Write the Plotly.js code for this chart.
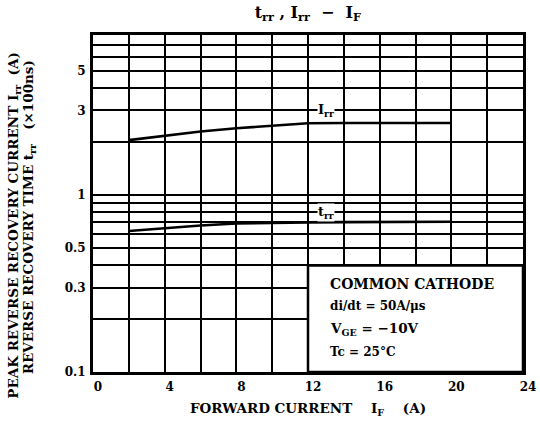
<!DOCTYPE html>
<html>
<head>
<meta charset="utf-8">
<script src="https://cdn.plot.ly/plotly-3.0.1.min.js"></script>
<style>html,body{margin:0;padding:0;background:#fff;}#chart{width:540px;height:429px;}</style>
</head>
<body>
<div id="chart"></div>
<script>
// Data
const forwardCurrent = [2, 4, 6, 8, 10, 12, 14, 16, 18, 20];
const irrValues = [2.04, 2.16, 2.28, 2.38, 2.47, 2.54, 2.55, 2.55, 2.55, 2.55];
const trrValues = [0.625, 0.65, 0.672, 0.69, 0.698, 0.70, 0.702, 0.703, 0.704, 0.705];
const xGrid = [0, 2, 4, 6, 8, 10, 12, 14, 16, 18, 20, 22, 24];
const xLabels = ["0", "", "4", "", "8", "", "12", "", "16", "", "20", "", "24"];
const yGrid = [0.1, 0.2, 0.3, 0.4, 0.5, 0.6, 0.7, 0.8, 0.9, 1, 2, 3, 4, 5, 6, 7, 8];
const yLabels = ["0.1", "", "0.3", "", "0.5", "", "", "", "", "1", "", "3", "", "5", "", "", ""];
const conditionLines = ["COMMON CATHODE", "di/dt = 50A/μs", "V<sub>GE</sub> = −10V", "Tc = 25°C"];

const F = "DejaVu Serif, Liberation Serif, serif";
const yMin = -1, yMax = Math.log10(8);
const toPaperY = v => (Math.log10(v) - yMin) / (yMax - yMin);

const traces = [
  {x: forwardCurrent, y: irrValues, mode: "lines", line: {color: "#000", width: 2.6}, hoverinfo: "skip"},
  {x: forwardCurrent, y: trrValues, mode: "lines", line: {color: "#000", width: 2.6}, hoverinfo: "skip"}
];

const condY = [0.314, 0.235, 0.174, 0.13];
const condSize = [14, 12, 13.5, 12];
const annotations = conditionLines.map((t, i) => ({
  x: 13.1, y: toPaperY(condY[i]), xref: "x", yref: "paper", text: "<b>" + t + "</b>",
  showarrow: false, xanchor: "left", yanchor: "middle",
  font: {family: F, size: condSize[i], color: "#000"}
}));
annotations.push(
  {x: 13.0, y: toPaperY(3), xref: "x", yref: "paper", text: "<b>I<sub>rr</sub></b>", showarrow: false, bgcolor: "#fff",
   xanchor: "center", yanchor: "middle", font: {family: F, size: 13, color: "#000"}, borderpad: 0},
  {x: 13.0, y: toPaperY(0.8), xref: "x", yref: "paper", text: "<b>t<sub>rr</sub></b>", showarrow: false, bgcolor: "#fff",
   xanchor: "center", yanchor: "middle", font: {family: F, size: 13, color: "#000"}, borderpad: 0},
  {x: -0.183, y: 0.435, xref: "paper", yref: "paper", textangle: -90, showarrow: false,
   text: "<b>PEAK REVERSE RECOVERY CURRENT I<sub>rr</sub>  (A)</b>", xanchor: "center", yanchor: "middle",
   font: {family: F, size: 13.5, color: "#000"}},
  {x: -0.148, y: 0.46, xref: "paper", yref: "paper", textangle: -90, showarrow: false,
   text: "<b>REVERSE RECOVERY TIME t<sub>rr</sub>   (×100ns)</b>", xanchor: "center", yanchor: "middle",
   font: {family: F, size: 13.5, color: "#000"}}
);

const layout = {
  width: 540, height: 429,
  margin: {l: 93, r: 17, t: 35, b: 57},
  paper_bgcolor: "#fff", plot_bgcolor: "#fff",
  showlegend: false,
  title: {text: "<b>t<sub>rr</sub> , I<sub>rr</sub>  −  I<sub>F</sub></b>", x: 0.57, xanchor: "center", y: 0.985, yanchor: "top",
          font: {family: F, size: 16, color: "#000"}},
  xaxis: {
    range: [0, 24], tickmode: "array", tickvals: xGrid, ticktext: xLabels,
    showgrid: true, gridcolor: "#000", gridwidth: 2, zeroline: false,
    showline: true, linecolor: "#000", linewidth: 3, mirror: true, ticks: "",
    ticklabelshift: 5, ticklabelstandoff: 2,
    tickfont: {family: F, size: 12, color: "#000", weight: "bold"},
    title: {text: "<b>FORWARD CURRENT    I<sub>F</sub>    (A)</b>", standoff: 11, font: {family: F, size: 13.5, color: "#000"}}
  },
  yaxis: {
    type: "log", range: [yMin, yMax], tickmode: "array", tickvals: yGrid, ticktext: yLabels,
    showgrid: true, gridcolor: "#000", gridwidth: 2, zeroline: false,
    showline: true, linecolor: "#000", linewidth: 3, mirror: true, ticks: "",
    ticklabelstandoff: 2,
    tickfont: {family: F, size: 12, color: "#000", weight: "bold"}
  },
  shapes: [
    {type: "rect", xref: "x", yref: "paper", x0: 12, x1: 24, y0: 0, y1: toPaperY(0.4),
     fillcolor: "#fff", line: {color: "#000", width: 2.5}, layer: "above"}
  ],
  annotations: annotations
};

Plotly.newPlot("chart", traces, layout, {staticPlot: true, displayModeBar: false});
</script>
</body>
</html>
